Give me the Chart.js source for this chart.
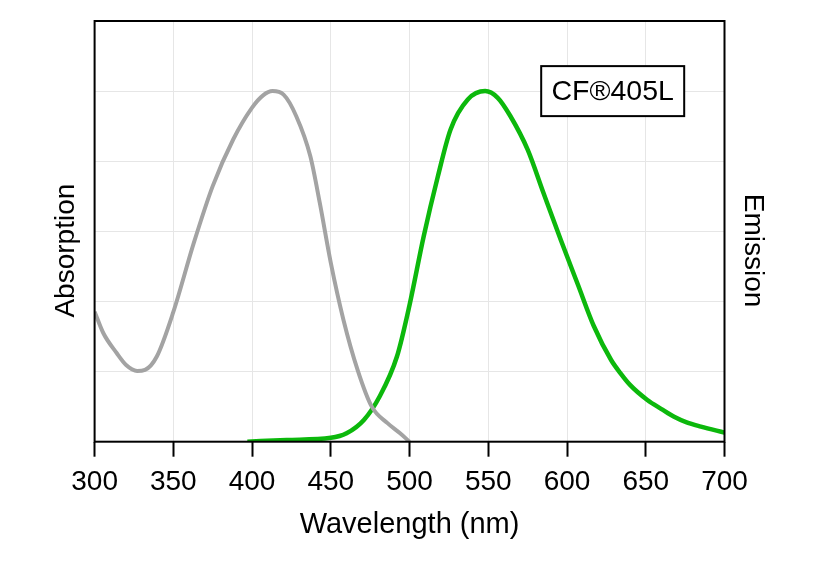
<!DOCTYPE html>
<html>
<head>
<meta charset="utf-8">
<script src="https://cdn.jsdelivr.net/npm/chart.js@4.4.1/dist/chart.umd.min.js"></script>
<style>
  html, body { margin: 0; padding: 0; background: #fff; }
  #wrap { width: 820px; height: 570px; }
</style>
</head>
<body>
<div id="wrap"><canvas id="c" width="820" height="570"></canvas></div>
<script>
// Absorption spectrum (gray)
const absWavelength = [300, 305.5, 314, 320, 327, 332, 339.5, 350, 363, 375, 388, 400, 407, 413, 420, 428, 437, 443, 450, 458, 467, 476, 486, 494, 500];
const absValue      = [0.371, 0.31, 0.253, 0.219, 0.202, 0.205, 0.243, 0.37, 0.567, 0.729, 0.862, 0.953, 0.988, 1.0, 0.99, 0.929, 0.814, 0.681, 0.51, 0.348, 0.205, 0.10, 0.053, 0.024, 0.0];
// Emission spectrum (green)
const emWavelength = [397, 422, 450, 460, 471, 481, 492, 500, 509, 518, 526, 537, 548, 556, 564, 575, 585, 596, 607, 617, 628, 634, 640, 651, 660, 668, 676, 685, 700];
const emValue      = [0, 0.005, 0.011, 0.024, 0.062, 0.129, 0.243, 0.39, 0.586, 0.757, 0.89, 0.976, 1.0, 0.981, 0.929, 0.833, 0.71, 0.576, 0.447, 0.33, 0.233, 0.195, 0.162, 0.119, 0.093, 0.071, 0.055, 0.043, 0.026];
// Axis ticks / labels
const xTicks = [300, 350, 400, 450, 500, 550, 600, 650, 700];
const xTitle = 'Wavelength (nm)';
const yTitleLeft = 'Absorption';
const yTitleRight = 'Emission';
const dyeLabel = 'CF®405L';
const labelAt = { x: 629, y: 1.0 };

const FONT = "'Liberation Sans', Arial, sans-serif";
const toPts = (xs, ys) => xs.map((x, i) => ({ x: x, y: ys[i] }));

const framePlugin = {
  id: 'frame',
  afterDraw(chart) {
    const { ctx, chartArea: a, scales } = chart;
    ctx.save();
    ctx.strokeStyle = '#000';
    ctx.lineWidth = 2;
    ctx.strokeRect(a.left, a.top, a.right - a.left, a.bottom - a.top);
    // label box
    const cx = scales.x.getPixelForValue(labelAt.x);
    const cy = scales.y.getPixelForValue(labelAt.y);
    const w = 143, h = 50;
    ctx.fillStyle = '#fff';
    ctx.fillRect(cx - w / 2, cy - h / 2, w, h);
    ctx.strokeRect(cx - w / 2, cy - h / 2, w, h);
    ctx.fillStyle = '#000';
    ctx.font = '28.5px ' + FONT;
    ctx.textAlign = 'center';
    ctx.textBaseline = 'middle';
    ctx.fillText(dyeLabel, cx, cy + 1);
    // side titles
    const midY = scales.y.getPixelForValue(0.545);
    ctx.font = '28px ' + FONT;
    ctx.save();
    ctx.translate(a.left - 28, midY);
    ctx.rotate(-Math.PI / 2);
    ctx.fillText(yTitleLeft, 0, 0);
    ctx.restore();
    ctx.save();
    ctx.translate(a.right + 28, midY);
    ctx.rotate(Math.PI / 2);
    ctx.fillText(yTitleRight, 0, 0);
    ctx.restore();
    ctx.restore();
  }
};

new Chart(document.getElementById('c'), {
  type: 'line',
  data: {
    datasets: [
      {
        label: 'Absorption',
        data: toPts(absWavelength, absValue),
        borderColor: '#a3a3a3',
        borderWidth: 4,
        pointRadius: 0,
        cubicInterpolationMode: 'monotone',
        fill: false,
        yAxisID: 'y'
      },
      {
        label: 'Emission',
        data: toPts(emWavelength, emValue),
        borderColor: '#0cb80c',
        borderWidth: 4.5,
        pointRadius: 0,
        cubicInterpolationMode: 'monotone',
        fill: false,
        yAxisID: 'y'
      }
    ]
  },
  options: {
    responsive: false,
    animation: false,
    devicePixelRatio: 1,
    layout: { padding: { top: 21, left: 0, right: 0, bottom: 0 } },
    plugins: { legend: { display: false }, tooltip: { enabled: false } },
    scales: {
      x: {
        type: 'linear',
        min: 300, max: 700,
        afterBuildTicks: (s) => { s.ticks = xTicks.map(v => ({ value: v })); },
        ticks: { font: { size: 28, family: FONT }, color: '#000', padding: 9, maxRotation: 0 },
        grid: { color: '#e6e6e6', lineWidth: 1, tickColor: '#000', tickLength: 15, tickWidth: 2 },
        border: { display: false },
        title: { display: true, text: xTitle, color: '#000', font: { size: 29, family: FONT }, padding: { top: 0, bottom: 28 } },
        afterFit: (s) => { s.height = 128.3; }
      },
      y: {
        position: 'left',
        min: 0, max: 1.2,
        ticks: { display: false, stepSize: 0.2 },
        grid: { color: '#e6e6e6', lineWidth: 1, drawTicks: false },
        border: { display: false },
        afterFit: (s) => { s.width = 94.6; }
      },
      y2: {
        position: 'right',
        min: 0, max: 1.2,
        ticks: { display: false },
        grid: { display: false, drawTicks: false },
        border: { display: false },
        afterFit: (s) => { s.width = 95.5; }
      }
    }
  },
  plugins: [framePlugin]
});
</script>
</body>
</html>
